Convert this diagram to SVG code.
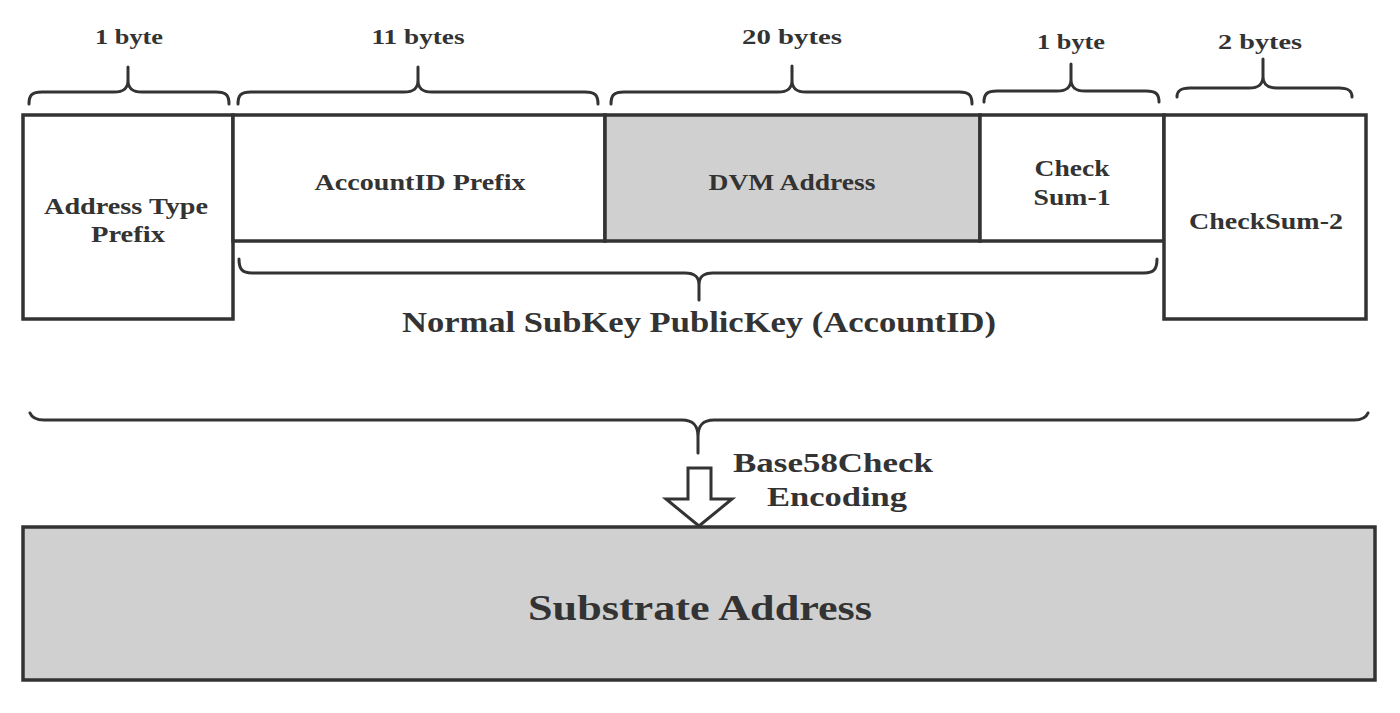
<svg xmlns="http://www.w3.org/2000/svg" width="1400" height="713" viewBox="0 0 1400 713">
<style>
.box{stroke:#333;stroke-width:3.5;fill:#fff}
.gray{fill:#d0d0d0}
.brace{fill:none;stroke:#333;stroke-width:3;stroke-linecap:round;stroke-linejoin:round}
text{font-family:"Liberation Serif","Times New Roman",serif;font-weight:bold;fill:#333;text-anchor:middle}
.s{font-size:22px}
.m{font-size:23px}
.l{font-size:29px}
.xl{font-size:36px}
</style>
<rect width="1400" height="713" fill="#fff"/>
<g id="labels-top">
<text class="s" x="129" y="44" textLength="68" lengthAdjust="spacingAndGlyphs">1 byte</text>
<text class="s" x="418" y="44" textLength="93" lengthAdjust="spacingAndGlyphs">11 bytes</text>
<text class="s" x="792" y="44" textLength="100" lengthAdjust="spacingAndGlyphs">20 bytes</text>
<text class="s" x="1071" y="49" textLength="68" lengthAdjust="spacingAndGlyphs">1 byte</text>
<text class="s" x="1260" y="49" textLength="84" lengthAdjust="spacingAndGlyphs">2 bytes</text>
</g>
<g id="braces">
<path class="brace" d="M29,104 C29,95 32,92 42,92 L114,92 C124,92 128,88 128,80 L128,67 M128,80 C128,88 132,92 142,92 L216,92 C226,92 229,95 229,104"/>
<path class="brace" d="M238,104 C238,95 241,92 251,92 L404,92 C414,92 418,88 418,80 L418,67 M418,80 C418,88 422,92 432,92 L585,92 C595,92 598,95 598,104"/>
<path class="brace" d="M611,104 C611,95 614,92 624,92 L778,92 C788,92 792,88 792,80 L792,66 M792,80 C792,88 796,92 806,92 L959,92 C969,92 972,95 972,104"/>
<path class="brace" d="M984,102 C984,94 987,91 997,91 L1057,91 C1067,91 1071,87 1071,79 L1071,64 M1071,79 C1071,87 1075,91 1085,91 L1146,91 C1156,91 1159,94 1159,102"/>
<path class="brace" d="M1177,97 C1177,91 1180,88 1190,88 L1249,88 C1259,88 1263,84 1263,76 L1263,59 M1263,76 C1263,84 1267,88 1277,88 L1339,88 C1349,88 1352,91 1352,97"/>
<path class="brace" d="M239,259 C239,269 242,273 252,273 L685,273 C695,273 699,277 699,285 L699,300 M699,285 C699,277 703,273 713,273 L1144,273 C1154,273 1157,269 1157,259"/>
<path class="brace" d="M30,413 C32,418 36,420 44,420 L682,420 C693,420 698,425 698,437 L698,453 M698,437 C698,425 703,420 714,420 L1354,420 C1362,420 1366,418 1368,413"/>
</g>
<g id="node-address-type-prefix">
<rect class="box" x="23" y="115" width="210" height="204"/>
<text class="m" x="126" y="214" textLength="164" lengthAdjust="spacingAndGlyphs">Address Type</text>
<text class="m" x="128" y="242" textLength="74" lengthAdjust="spacingAndGlyphs">Prefix</text>
</g>
<g id="node-accountid-prefix">
<rect class="box" x="233" y="115" width="372" height="126"/>
<text class="m" x="420" y="190" textLength="211" lengthAdjust="spacingAndGlyphs">AccountID Prefix</text>
</g>
<g id="node-dvm-address">
<rect class="box gray" x="605" y="115" width="375" height="126"/>
<text class="m" x="792" y="190" textLength="167" lengthAdjust="spacingAndGlyphs">DVM Address</text>
</g>
<g id="node-checksum-1">
<rect class="box" x="980" y="115" width="184" height="126"/>
<text class="m" x="1072" y="176" textLength="75" lengthAdjust="spacingAndGlyphs">Check</text>
<text class="m" x="1072" y="205" textLength="77" lengthAdjust="spacingAndGlyphs">Sum-1</text>
</g>
<g id="node-checksum-2">
<rect class="box" x="1164" y="115" width="202" height="204"/>
<text class="m" x="1266" y="229" textLength="154" lengthAdjust="spacingAndGlyphs">CheckSum-2</text>
</g>
<g id="label-accountid">
<text class="l" x="699" y="332" textLength="594" lengthAdjust="spacingAndGlyphs">Normal SubKey PublicKey (AccountID)</text>
</g>
<g id="connector-encoding">
<path d="M688,468 L711,468 L711,499 L732,499 L699,526 L666,499 L688,499 Z" fill="#fff" stroke="#333" stroke-width="3" stroke-linejoin="miter"/>
<text x="833" y="472" font-size="27" textLength="200" lengthAdjust="spacingAndGlyphs">Base58Check</text>
<text x="837" y="506" font-size="27" textLength="140" lengthAdjust="spacingAndGlyphs">Encoding</text>
</g>
<g id="node-substrate-address">
<rect class="box gray" x="23" y="527" width="1352" height="153"/>
<text class="xl" x="700" y="620" textLength="344" lengthAdjust="spacingAndGlyphs">Substrate Address</text>
</g>
</svg>
